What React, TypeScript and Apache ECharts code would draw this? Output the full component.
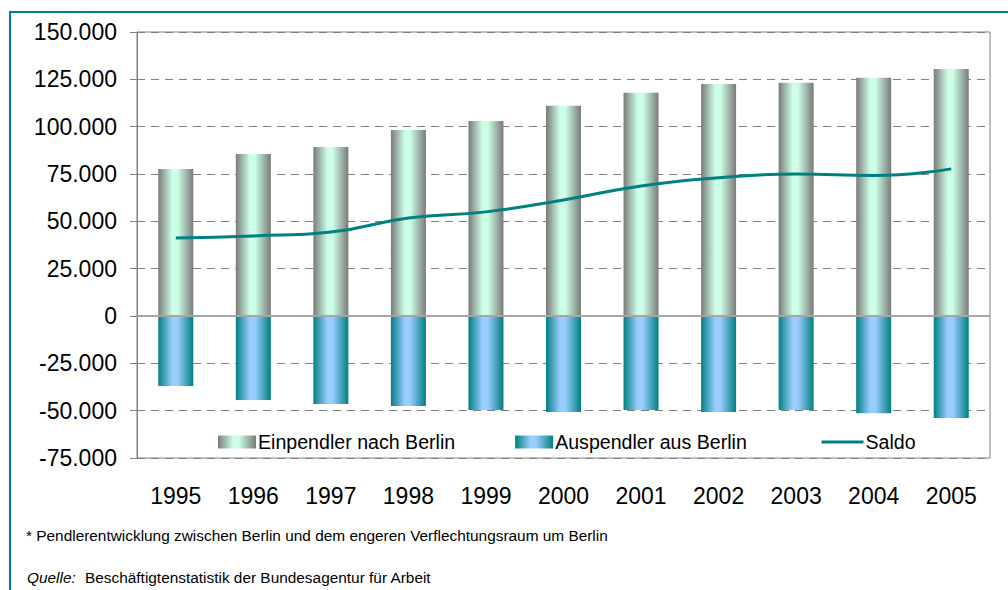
import React, { useEffect, useRef } from "react";
import * as echarts from "echarts";

const years = ["1995", "1996", "1997", "1998", "1999", "2000", "2001", "2002", "2003", "2004", "2005"];
const einpendler = [77700, 85600, 89300, 98300, 103000, 111000, 117900, 122600, 123200, 125800, 130500];
const auspendler = [-37000, -44400, -46500, -47600, -49700, -50700, -49700, -50700, -49700, -51300, -53900];
const saldo = [41200, 42300, 44400, 51800, 55000, 61300, 68700, 73000, 75000, 74200, 77700];
const legendNames = ["Einpendler nach Berlin", "Auspendler aus Berlin", "Saldo"];
const footnote = "* Pendlerentwicklung zwischen Berlin und dem engeren Verflechtungsraum um Berlin";
const sourceLabel = "Quelle:";
const sourceText = "Beschäftigtenstatistik der Bundesagentur für Arbeit";

const fmt = (v: number) => {
  if (v === 0) return "0";
  const s = Math.abs(v).toString().replace(/\B(?=(\d{3})+(?!\d))/g, ".");
  return (v < 0 ? "-" : "") + s;
};

const FONT = "'Liberation Sans', Arial, sans-serif";

export default function App() {
  const ref = useRef<HTMLDivElement>(null);
  useEffect(() => {
    if (!ref.current) return;
    const chart = echarts.init(ref.current, undefined, { renderer: "svg" });
    const einGrad = new echarts.graphic.LinearGradient(0, 0, 1, 0, [
      { offset: 0, color: "#7a7a7a" },
      { offset: 0.4, color: "#ccffe6" },
      { offset: 0.55, color: "#ccffe6" },
      { offset: 1, color: "#7a7a7a" },
    ]);
    const ausGrad = new echarts.graphic.LinearGradient(0, 0, 1, 0, [
      { offset: 0, color: "#008080" },
      { offset: 0.4, color: "#99ccff" },
      { offset: 0.55, color: "#99ccff" },
      { offset: 1, color: "#008080" },
    ]);
    const legendText = { fontSize: 19.6, color: "#000", fontFamily: FONT, padding: [0, 0, 0, -3] };
    chart.setOption({
      animation: false,
      backgroundColor: "#ffffff",
      textStyle: { fontFamily: FONT },
      grid: {
        left: 137,
        top: 32,
        right: 18,
        bottom: 132,
        show: true,
        borderColor: "#808080",
        borderWidth: 1,
        backgroundColor: "transparent",
      },
      legend: [
        {
          data: [
            { name: legendNames[0], icon: "rect" },
            { name: legendNames[1], icon: "rect" },
          ],
          left: 213,
          top: 427,
          itemWidth: 38,
          itemHeight: 13,
          itemGap: 60,
          textStyle: legendText,
        },
        {
          data: [
            { name: legendNames[2], itemStyle: { opacity: 0 }, lineStyle: { width: 3, color: "#008080" } },
          ],
          left: 815,
          top: 427,
          itemWidth: 42,
          itemHeight: 13,
          textStyle: legendText,
        },
      ],
      xAxis: {
        type: "category",
        data: years,
        axisLine: { onZero: false, show: false },
        axisTick: { show: false },
        axisLabel: { fontSize: 23, color: "#000", margin: 26, fontFamily: FONT },
      },
      yAxis: {
        type: "value",
        min: -75000,
        max: 150000,
        interval: 25000,
        axisLine: { show: true, lineStyle: { color: "#808080", width: 1 } },
        axisTick: { show: true, length: 7, lineStyle: { color: "#808080" } },
        axisLabel: { fontSize: 23, color: "#000", margin: 20, formatter: fmt, fontFamily: FONT },
        splitLine: { show: true, lineStyle: { color: "#808080", type: [8, 6], width: 1 } },
      },
      series: [
        {
          name: legendNames[0],
          type: "bar",
          stack: "p",
          data: einpendler,
          barWidth: 35,
          itemStyle: { color: einGrad },
          markLine: {
            silent: true,
            symbol: "none",
            label: { show: false },
            lineStyle: { color: "#a6a6a6", type: "solid", width: 2 },
            data: [{ yAxis: 0 }],
          },
        },
        {
          name: legendNames[1],
          type: "bar",
          stack: "p",
          data: auspendler,
          barWidth: 35,
          itemStyle: { color: ausGrad },
        },
        {
          name: legendNames[2],
          type: "line",
          data: saldo,
          smooth: true,
          symbol: "none",
          z: 5,
          lineStyle: { color: "#008080", width: 3 },
          itemStyle: { color: "#008080" },
        },
      ],
      graphic: [
        {
          type: "rect",
          shape: { x: 10, y: 12, width: 1010, height: 600 },
          style: { fill: "none", stroke: "#008080", lineWidth: 2 },
          silent: true,
        },
        {
          type: "text",
          left: 26,
          top: 528,
          style: { text: footnote, fontSize: 15.4, fill: "#000", fontFamily: FONT },
        },
        {
          type: "text",
          left: 27,
          top: 570,
          style: { text: sourceLabel, fontSize: 15.4, fontStyle: "italic", fill: "#000", fontFamily: FONT },
        },
        {
          type: "text",
          left: 85,
          top: 570,
          style: { text: sourceText, fontSize: 15.4, fill: "#000", fontFamily: FONT },
        },
      ],
    });
    return () => chart.dispose();
  }, []);
  return (
    <div
      ref={ref}
      style={{ position: "fixed", left: 0, top: 0, width: 1008, height: 590 }}
    />
  );
}
